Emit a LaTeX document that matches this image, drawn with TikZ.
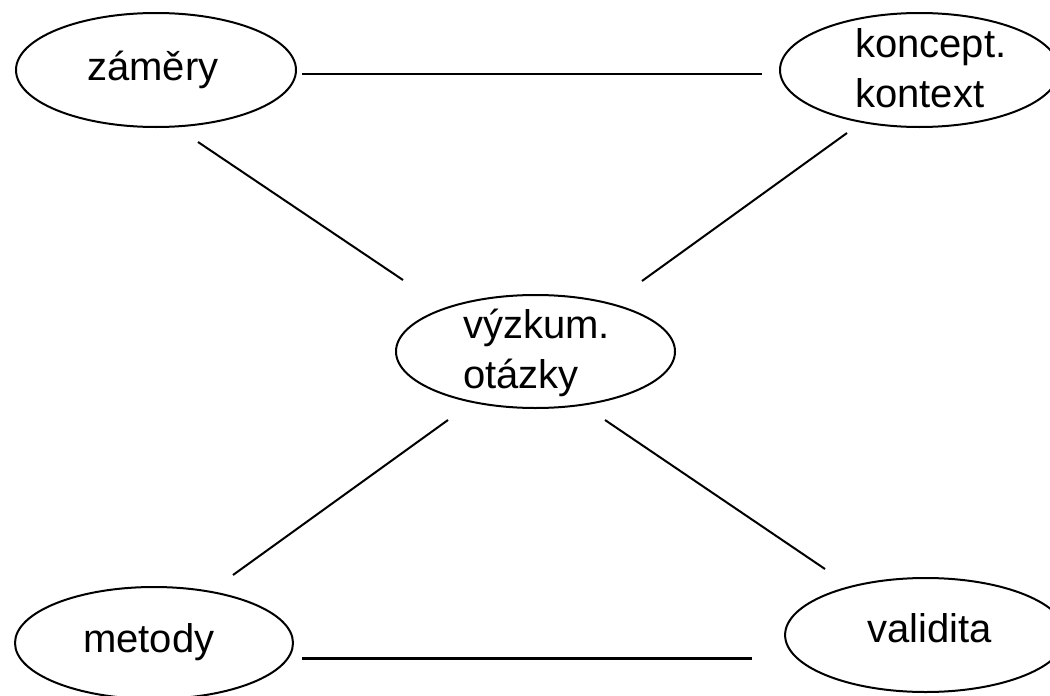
\documentclass[tikz,border=0pt]{standalone}
\usepackage{fontspec}
\setmainfont{Liberation Sans}
\usetikzlibrary{shapes.geometric}
\begin{document}
\begin{tikzpicture}[x=1pt,y=-1pt,
  oval/.style={draw=black,line width=2pt,ellipse,inner sep=0pt},
  lbl/.style={inner sep=0pt,anchor=base west,font=\fontsize{40}{50}\selectfont,align=left},
  link/.style={draw=black,line width=2pt},
  linkthick/.style={draw=black,line width=3pt}]
\useasboundingbox[fill=white] (0,0) rectangle (1050,696);
% ellipses
\node[oval,minimum width=280pt,minimum height=114pt] (zam) at (156,70) {};
\node[oval,minimum width=279pt,minimum height=114pt] (kon) at (919.5,70) {};
\node[oval,minimum width=279pt,minimum height=113pt] (vyz) at (535.5,351.5) {};
\node[oval,minimum width=278pt,minimum height=112pt] (met) at (154,643) {};
\node[oval,minimum width=281pt,minimum height=114pt] (val) at (925.6,635) {};
% texts (base anchor of a multi-line node = last line's baseline)
\node[lbl] (zamT) at (87,80) {záměry};
\node[lbl] (konT) at (855,107) {koncept.\\kontext};
\node[lbl] (vyzT) at (463,388) {výzkum.\\otázky};
\node[lbl] (metT) at (83,652) {metody};
\node[lbl] (valT) at (867,642) {validita};
% connector ends
\coordinate (zamE) at (302,74);
\coordinate (konW) at (762,74);
\coordinate (zamS) at (198,142);
\coordinate (vyzNW) at (403,280);
\coordinate (konS) at (847,133);
\coordinate (vyzNE) at (642,281);
\coordinate (vyzSW) at (448,420);
\coordinate (metN) at (233,575);
\coordinate (vyzSE) at (605,420);
\coordinate (valN) at (825,569);
\coordinate (metE) at (302,658);
\coordinate (valW) at (752,658);
% connectors
\draw[link] (zamE) -- (konW);
\draw[link] (zamS) -- (vyzNW);
\draw[link] (konS) -- (vyzNE);
\draw[link] (vyzSW) -- (metN);
\draw[link] (vyzSE) -- (valN);
\draw[linkthick] (metE) -- (valW);
\end{tikzpicture}
\end{document}
